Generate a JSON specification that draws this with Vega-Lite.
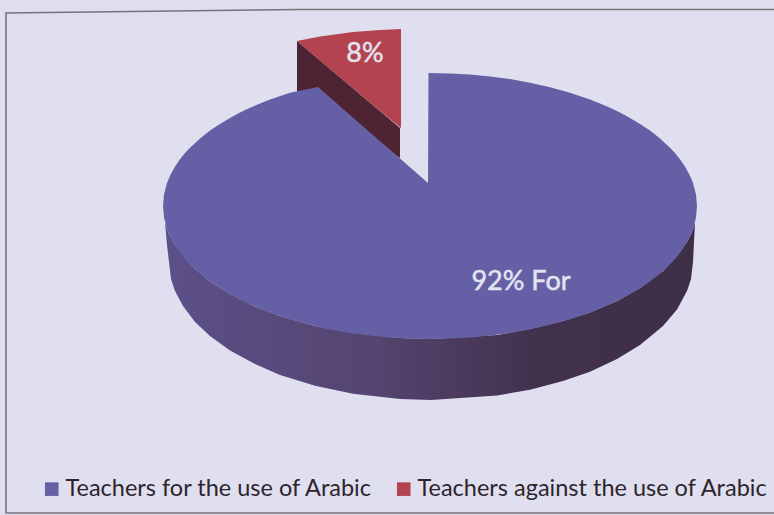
{
  "$schema": "https://vega.github.io/schema/vega-lite/v6.json",
  "width": 774,
  "height": 515,
  "padding": 0,
  "autosize": {"type": "none"},
  "background": "#dfdfef",
  "view": {"stroke": null},
  "config": {"font": "Lato"},
  "datasets": {
    "frame": [
      {"x": 774, "y": 513, "ord": 1},
      {"x": 6, "y": 513, "ord": 2},
      {"x": 6, "y": 13, "ord": 3},
      {"x": 300, "y": 9.5, "ord": 4},
      {"x": 774, "y": 9.5, "ord": 5}
    ],
    "rim": [
      {"x": 165, "top": 222.2, "bottom": 222.2},
      {"x": 167, "top": 229, "bottom": 245},
      {"x": 169, "top": 234, "bottom": 262},
      {"x": 171, "top": 238, "bottom": 279},
      {"x": 175, "top": 245, "bottom": 291},
      {"x": 183, "top": 255.5, "bottom": 306},
      {"x": 195, "top": 269, "bottom": 322},
      {"x": 210, "top": 281.4, "bottom": 336},
      {"x": 230, "top": 294.1, "bottom": 350.5},
      {"x": 255, "top": 306.4, "bottom": 364},
      {"x": 280, "top": 316, "bottom": 375},
      {"x": 315, "top": 326, "bottom": 385.7},
      {"x": 353, "top": 333, "bottom": 393.7},
      {"x": 400, "top": 338, "bottom": 399},
      {"x": 431, "top": 339, "bottom": 400},
      {"x": 497, "top": 335, "bottom": 395.5},
      {"x": 530, "top": 329, "bottom": 389.8},
      {"x": 563, "top": 321, "bottom": 381},
      {"x": 590, "top": 312.5, "bottom": 371.7},
      {"x": 617, "top": 301, "bottom": 359},
      {"x": 640, "top": 288, "bottom": 345},
      {"x": 663, "top": 271, "bottom": 326},
      {"x": 677, "top": 256, "bottom": 309.5},
      {"x": 687, "top": 242, "bottom": 291},
      {"x": 691, "top": 234, "bottom": 279},
      {"x": 693, "top": 229, "bottom": 262},
      {"x": 695, "top": 222.2, "bottom": 222.2}
    ],
    "wall": [
      {"x": 297, "top": 41, "bottom": 91},
      {"x": 400, "top": 128, "bottom": 158}
    ],
    "faces": [
      {"series": "Teachers for the use of Arabic", "x": 163, "top": 206, "bottom": 206},
      {"series": "Teachers for the use of Arabic", "x": 164, "top": 194.5, "bottom": 217.5},
      {"series": "Teachers for the use of Arabic", "x": 167, "top": 183, "bottom": 229},
      {"series": "Teachers for the use of Arabic", "x": 170, "top": 175.8, "bottom": 236.2},
      {"series": "Teachers for the use of Arabic", "x": 175, "top": 166.6, "bottom": 245.4},
      {"series": "Teachers for the use of Arabic", "x": 180, "top": 159.3, "bottom": 252.7},
      {"series": "Teachers for the use of Arabic", "x": 185, "top": 153, "bottom": 259},
      {"series": "Teachers for the use of Arabic", "x": 190, "top": 147.7, "bottom": 264.3},
      {"series": "Teachers for the use of Arabic", "x": 200, "top": 138.4, "bottom": 273.6},
      {"series": "Teachers for the use of Arabic", "x": 210, "top": 130.6, "bottom": 281.4},
      {"series": "Teachers for the use of Arabic", "x": 220, "top": 124, "bottom": 288},
      {"series": "Teachers for the use of Arabic", "x": 230, "top": 117.9, "bottom": 294.1},
      {"series": "Teachers for the use of Arabic", "x": 240, "top": 112.6, "bottom": 299.4},
      {"series": "Teachers for the use of Arabic", "x": 250, "top": 107.8, "bottom": 304.2},
      {"series": "Teachers for the use of Arabic", "x": 260, "top": 103.4, "bottom": 308.6},
      {"series": "Teachers for the use of Arabic", "x": 270, "top": 99.5, "bottom": 312.5},
      {"series": "Teachers for the use of Arabic", "x": 290, "top": 92.7, "bottom": 319.3},
      {"series": "Teachers for the use of Arabic", "x": 318, "top": 87, "bottom": 326.7},
      {"series": "Teachers for the use of Arabic", "x": 330, "top": 97.5, "bottom": 329.3},
      {"series": "Teachers for the use of Arabic", "x": 350, "top": 114.9, "bottom": 332.9},
      {"series": "Teachers for the use of Arabic", "x": 370, "top": 132.4, "bottom": 335.6},
      {"series": "Teachers for the use of Arabic", "x": 390, "top": 149.8, "bottom": 337.5},
      {"series": "Teachers for the use of Arabic", "x": 410, "top": 167.3, "bottom": 338.6},
      {"series": "Teachers for the use of Arabic", "x": 428, "top": 183, "bottom": 339},
      {"series": "Teachers for the use of Arabic", "x": 428.5, "top": 73, "bottom": 339},
      {"series": "Teachers for the use of Arabic", "x": 450, "top": 73.4, "bottom": 338.6},
      {"series": "Teachers for the use of Arabic", "x": 470, "top": 74.5, "bottom": 337.5},
      {"series": "Teachers for the use of Arabic", "x": 490, "top": 76.4, "bottom": 335.6},
      {"series": "Teachers for the use of Arabic", "x": 510, "top": 79.1, "bottom": 332.9},
      {"series": "Teachers for the use of Arabic", "x": 530, "top": 82.7, "bottom": 329.3},
      {"series": "Teachers for the use of Arabic", "x": 550, "top": 87.2, "bottom": 324.8},
      {"series": "Teachers for the use of Arabic", "x": 570, "top": 92.7, "bottom": 319.3},
      {"series": "Teachers for the use of Arabic", "x": 590, "top": 99.5, "bottom": 312.5},
      {"series": "Teachers for the use of Arabic", "x": 600, "top": 103.4, "bottom": 308.6},
      {"series": "Teachers for the use of Arabic", "x": 610, "top": 107.8, "bottom": 304.2},
      {"series": "Teachers for the use of Arabic", "x": 620, "top": 112.6, "bottom": 299.4},
      {"series": "Teachers for the use of Arabic", "x": 630, "top": 117.9, "bottom": 294.1},
      {"series": "Teachers for the use of Arabic", "x": 640, "top": 124, "bottom": 288},
      {"series": "Teachers for the use of Arabic", "x": 650, "top": 130.6, "bottom": 281.4},
      {"series": "Teachers for the use of Arabic", "x": 660, "top": 138.4, "bottom": 273.6},
      {"series": "Teachers for the use of Arabic", "x": 670, "top": 147.7, "bottom": 264.3},
      {"series": "Teachers for the use of Arabic", "x": 675, "top": 153, "bottom": 259},
      {"series": "Teachers for the use of Arabic", "x": 680, "top": 159.3, "bottom": 252.7},
      {"series": "Teachers for the use of Arabic", "x": 685, "top": 166.6, "bottom": 245.4},
      {"series": "Teachers for the use of Arabic", "x": 690, "top": 175.8, "bottom": 236.2},
      {"series": "Teachers for the use of Arabic", "x": 693, "top": 183, "bottom": 229},
      {"series": "Teachers for the use of Arabic", "x": 696, "top": 194.5, "bottom": 217.5},
      {"series": "Teachers for the use of Arabic", "x": 697, "top": 206, "bottom": 206},
      {"series": "Teachers against the use of Arabic", "x": 297, "top": 41, "bottom": 41},
      {"series": "Teachers against the use of Arabic", "x": 320, "top": 36.5, "bottom": 60.4},
      {"series": "Teachers against the use of Arabic", "x": 353, "top": 32, "bottom": 88.2},
      {"series": "Teachers against the use of Arabic", "x": 380, "top": 30, "bottom": 111},
      {"series": "Teachers against the use of Arabic", "x": 401, "top": 29, "bottom": 128}
    ],
    "labels": [
      {"label": "8%", "x": 365, "y": 54, "size": 27},
      {"label": "92% For", "x": 521, "y": 282, "size": 27}
    ]
  },
  "layer": [
    {
      "data": {"name": "frame"},
      "mark": {"type": "line", "stroke": "#7d7279", "strokeWidth": 1.6, "interpolate": "linear"},
      "encoding": {
        "x": {"field": "x", "type": "quantitative", "scale": {"domain": [0, 774], "nice": false, "zero": false}, "axis": null},
        "y": {"field": "y", "type": "quantitative", "scale": {"domain": [0, 515], "nice": false, "zero": false, "reverse": true}, "axis": null},
        "order": {"field": "ord", "type": "quantitative"}
      }
    },
    {
      "data": {"name": "wall"},
      "mark": {"type": "area", "color": "#4f2432"},
      "encoding": {
        "x": {"field": "x", "type": "quantitative", "axis": null},
        "y": {"field": "top", "type": "quantitative", "axis": null},
        "y2": {"field": "bottom"}
      }
    },
    {
      "data": {"name": "rim"},
      "mark": {
        "type": "area",
        "color": {
          "gradient": "linear", "x1": 0, "x2": 1, "y1": 0, "y2": 0,
          "stops": [
            {"offset": 0, "color": "#5c5089"},
            {"offset": 0.4, "color": "#54446f"},
            {"offset": 0.7, "color": "#42314d"},
            {"offset": 1, "color": "#3f2e48"}
          ]
        }
      },
      "encoding": {
        "x": {"field": "x", "type": "quantitative", "axis": null},
        "y": {"field": "top", "type": "quantitative", "axis": null},
        "y2": {"field": "bottom"}
      }
    },
    {
      "data": {"name": "faces"},
      "mark": {"type": "area"},
      "encoding": {
        "x": {"field": "x", "type": "quantitative", "axis": null},
        "y": {"field": "top", "type": "quantitative", "axis": null},
        "y2": {"field": "bottom"},
        "color": {
          "field": "series",
          "type": "nominal",
          "scale": {
            "domain": ["Teachers for the use of Arabic", "Teachers against the use of Arabic"],
            "range": ["#6560a6", "#b2434f"]
          },
          "legend": {
            "title": null,
            "orient": "none",
            "legendX": 40,
            "legendY": 477,
            "direction": "horizontal",
            "columns": 2,
            "symbolType": "square",
            "symbolSize": 185,
            "symbolStrokeWidth": 0,
            "labelFont": "Lato",
            "labelFontSize": 23.5,
            "labelColor": "#2e252c",
            "labelLimit": 400,
            "labelOffset": 2,
            "columnPadding": 19
          }
        }
      }
    },
    {
      "data": {"name": "labels"},
      "mark": {"type": "text", "font": "Lato", "color": "#e4e3f0", "stroke": "#e4e3f0", "strokeWidth": 0.5, "align": "center", "baseline": "middle"},
      "encoding": {
        "x": {"field": "x", "type": "quantitative", "axis": null},
        "y": {"field": "y", "type": "quantitative", "axis": null},
        "text": {"field": "label"},
        "size": {"field": "size", "type": "quantitative", "scale": null, "legend": null}
      }
    }
  ]
}
